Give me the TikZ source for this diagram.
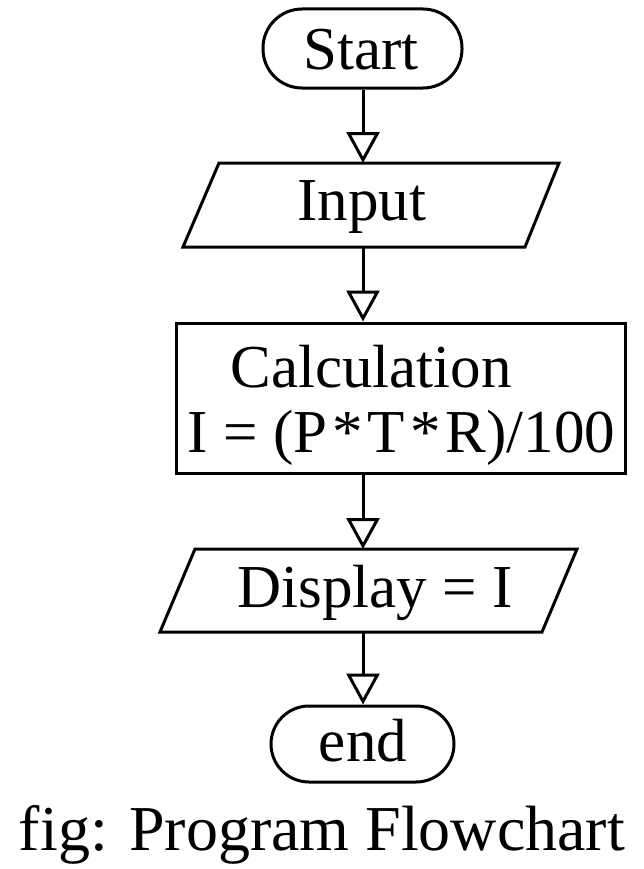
\documentclass[tikz,border=0pt]{standalone}
\usepackage{fontspec}
\setmainfont{Liberation Serif}
\usetikzlibrary{arrows.meta}
\tikzset{
  shapeline/.style={draw=black, line width=3bp},
  term/.style={shapeline, rectangle, inner sep=0pt},
  procbox/.style={shapeline, rectangle, inner sep=0pt},
  lbl/.style={anchor=base, inner sep=0pt, font=\fontsize{61bp}{70bp}\selectfont},
  captionstyle/.style={anchor=base, inner sep=0pt, font=\fontsize{64bp}{74bp}\selectfont},
  flow/.style={draw=black, line width=3bp, -{Triangle[open, length=31bp, width=33bp, line width=3bp]}}
}
\begin{document}
\begin{tikzpicture}[x=1bp, y=-1bp]
\useasboundingbox (0,0) rectangle (644,869);

% Start terminal
\node[term, rounded corners=39bp, minimum width=199bp, minimum height=79bp] (start) at (362.5,48.5) {};
\node[lbl] (starttxt) at (361,69) {Start};

% Input parallelogram
\draw[shapeline] (219,163) -- (559,163) -- (525,247) -- (183,247) -- cycle;
\coordinate (intop) at (363,163);
\coordinate (inbot) at (363,247);
\node[lbl] (inputtxt) at (362,220) {Input};

% Calculation box
\node[procbox, minimum width=448bp, minimum height=150bp] (calc) at (401,398) {};
\node[lbl] (calctxt1) at (371,387) {Calculation};
\node[lbl] (calctxt2) at (401.5,452) {I = (P\kern5bp*\kern5bp T\kern5bp*\kern5bp R)/100};

% Display parallelogram
\draw[shapeline] (195,549) -- (577,549) -- (542,632) -- (160,632) -- cycle;
\coordinate (disptop) at (363,549);
\coordinate (dispbot) at (363,632);
\node[lbl] (disptxt) at (375,607) {Display = I};

% End terminal
\node[term, rounded corners=38bp, minimum width=183bp, minimum height=76bp] (stop) at (362.5,744) {};
\node[lbl] (endtxt) at (363,761) {end};

% Connectors
\draw[flow] (start.south -| intop) -- (intop);
\draw[flow] (inbot) -- (calc.north -| inbot);
\draw[flow] (calc.south -| disptop) -- (disptop);
\draw[flow] (dispbot) -- (stop.north -| dispbot);

% Caption
\node[captionstyle] (caption) at (322,850) {fig: Program Flowchart};
\end{tikzpicture}
\end{document}
